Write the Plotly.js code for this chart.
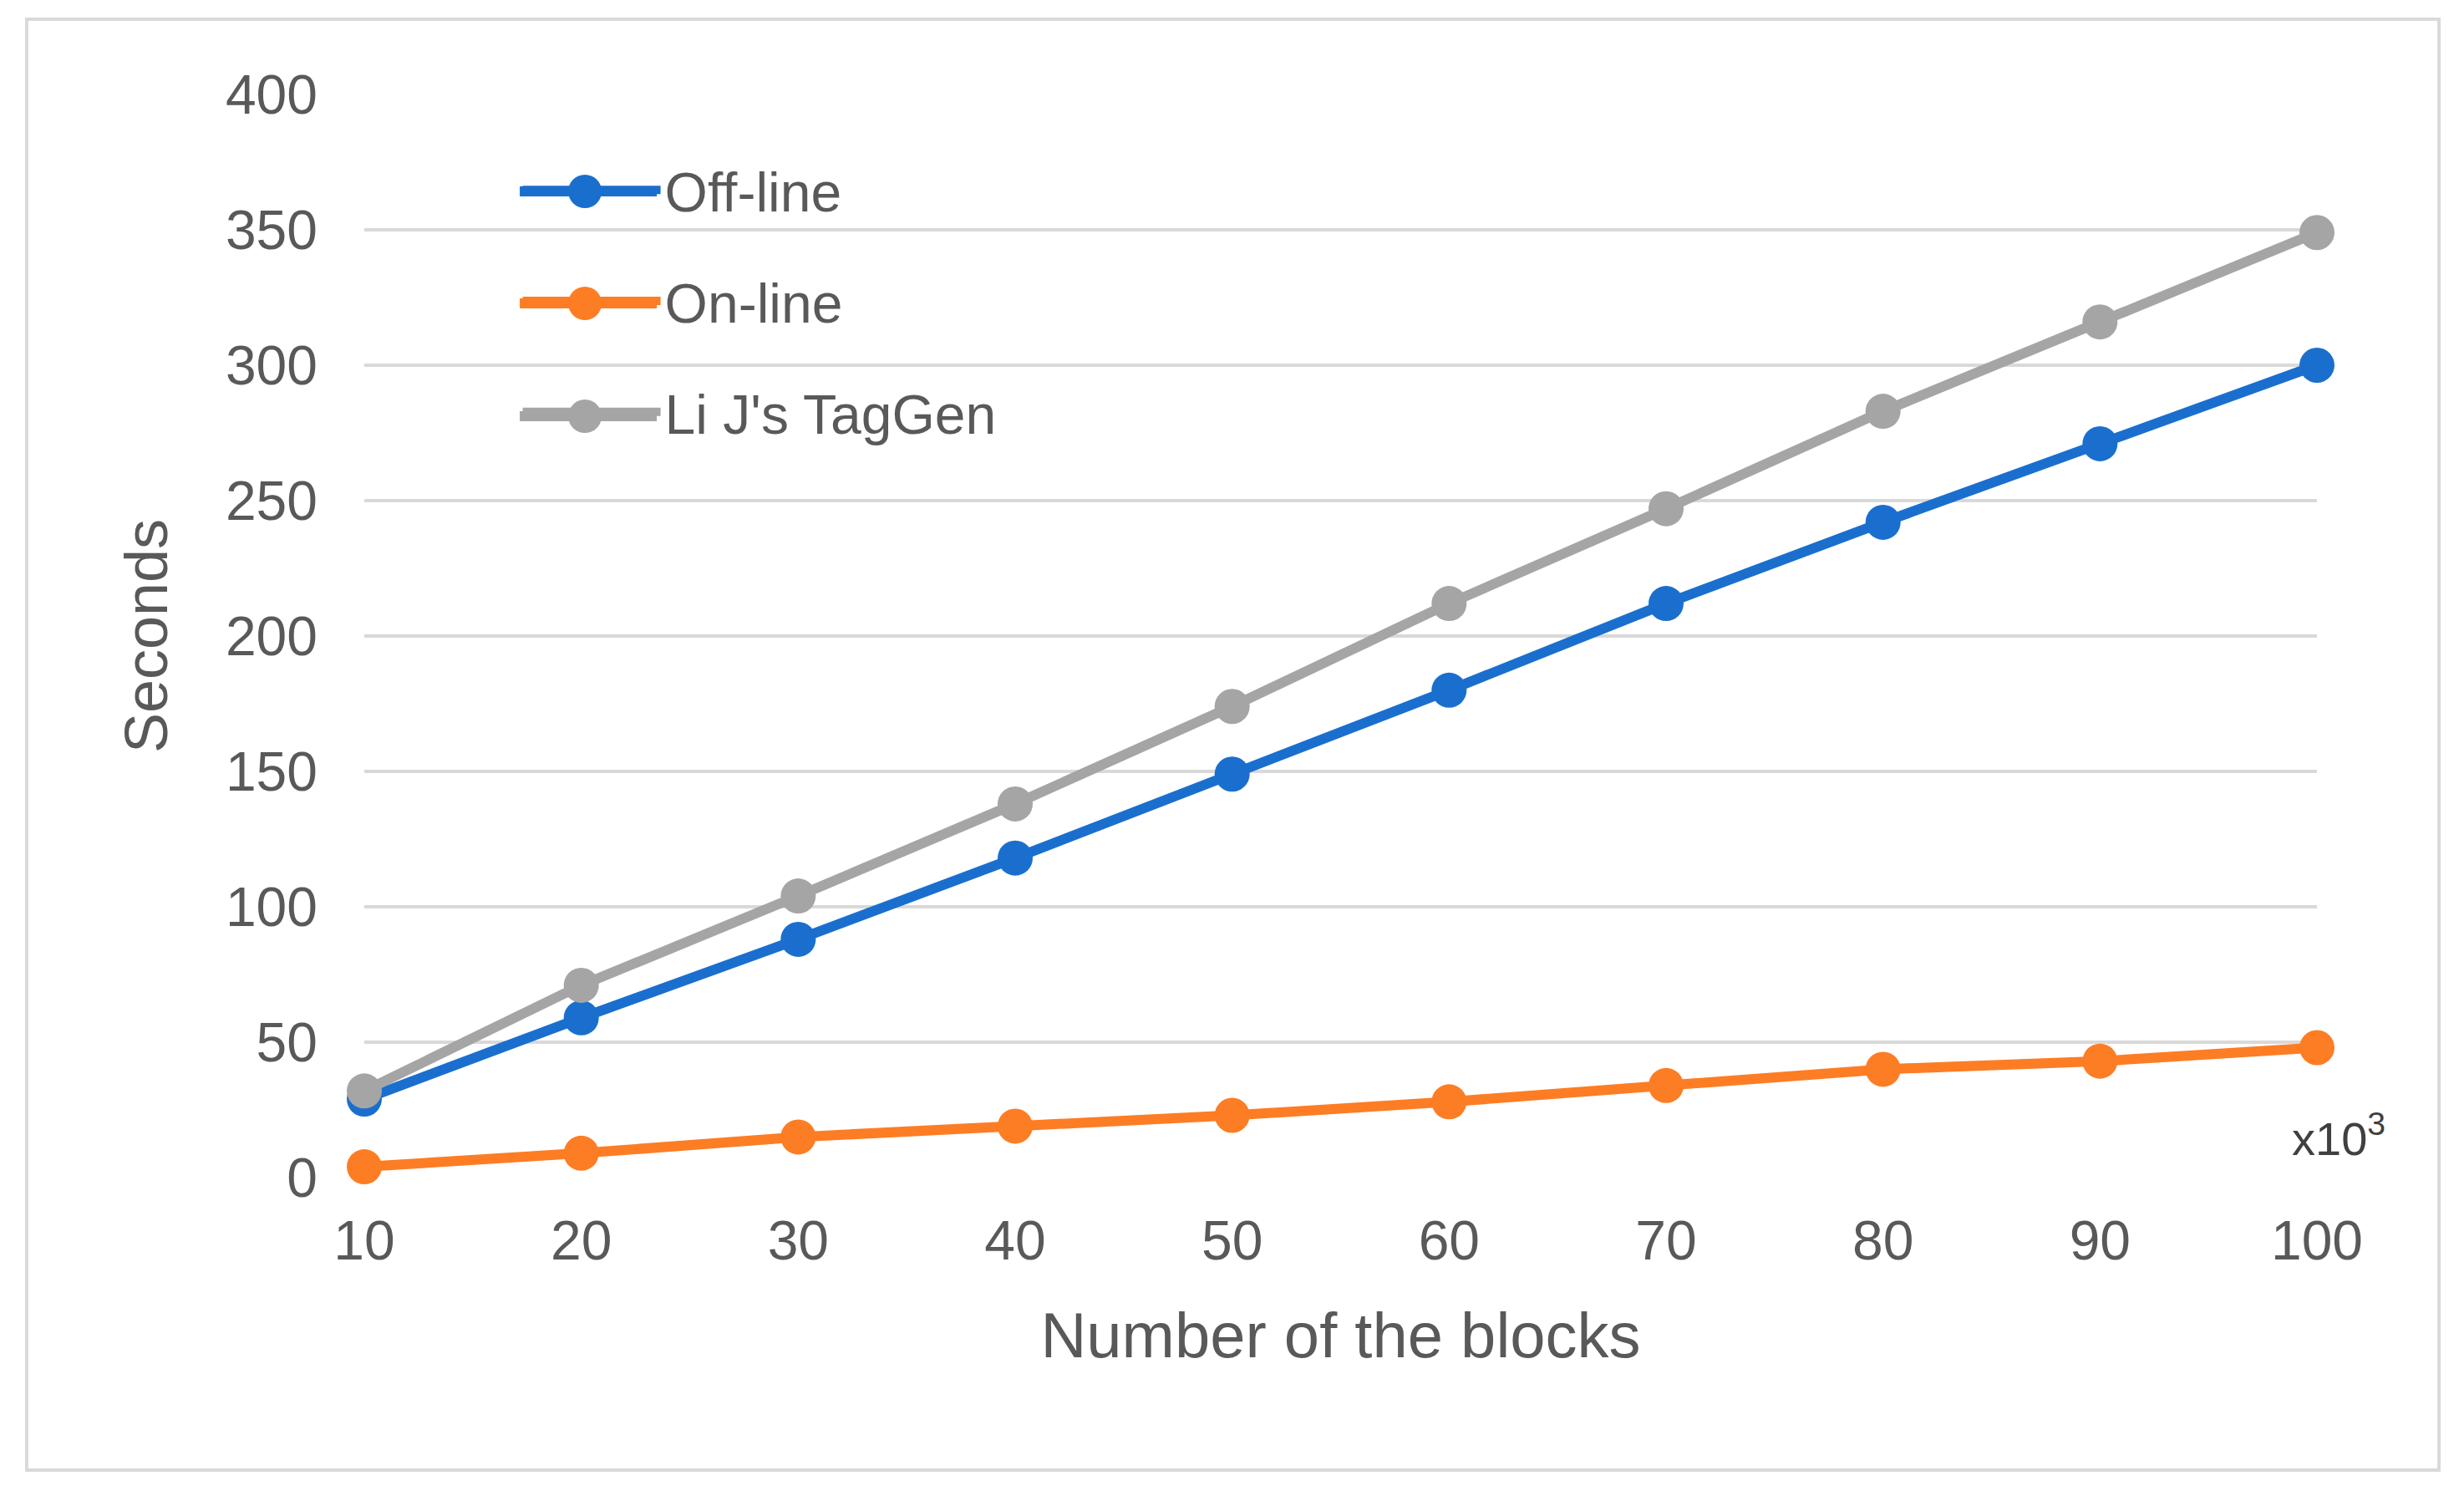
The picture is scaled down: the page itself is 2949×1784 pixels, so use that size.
<!DOCTYPE html>
<html>
<head>
<meta charset="utf-8">
<script src="https://cdn.plot.ly/plotly-3.0.1.min.js"></script>
<style>
  html, body { margin: 0; padding: 0; background: #fff; }
  #chart { width: 2949px; height: 1784px; }
</style>
</head>
<body>
<div id="chart"></div>
<script>
// blocks, in thousands
const blocks = [10, 20, 30, 40, 50, 60, 70, 80, 90, 100]
const offline = [29, 59, 88, 118, 149, 180, 212, 242, 271, 300]
const online = [4, 9, 15, 19, 23, 28, 34, 40, 43, 48]
const taggen = [32, 71, 104, 138, 174, 212, 247, 283, 316, 349]
const seriesNames = ['Off-line', 'On-line', "Li J's TagGen"]
const seriesColors = ['#1a6fce', '#fd7d24', '#a5a5a5']

const font = 'Liberation Sans, Arial, sans-serif'
const textColor = '#595959'

function series(y, i) {
  return {
    x: blocks,
    y: y,
    name: seriesNames[i],
    legendgroup: 'g' + i,
    type: 'scatter',
    mode: 'lines+markers',
    line: { color: seriesColors[i], width: 12 },
    marker: { color: seriesColors[i], size: 42 },
    cliponaxis: false
  }
}

const data = [series(offline, 0), series(online, 1), series(taggen, 2)]

// plotly caps legend symbol sizes, so the thick legend symbols are redrawn as pixel-sized shapes
const legendDotY = [0.9105, 0.8071, 0.7029]
const legendLines = legendDotY.map(function(y, i) {
  return {
    type: 'line', xref: 'paper', yref: 'paper',
    xsizemode: 'pixel', ysizemode: 'pixel',
    xanchor: 0.113, yanchor: y,
    x0: -78, x1: 86, y0: 0, y1: 0,
    line: { color: seriesColors[i], width: 12 }
  }
})
const legendDots = legendDotY.map(function(y, i) {
  return {
    type: 'circle', xref: 'paper', yref: 'paper',
    xsizemode: 'pixel', ysizemode: 'pixel',
    xanchor: 0.113, yanchor: y,
    x0: -20, x1: 20, y0: -20, y1: 20,
    fillcolor: seriesColors[i], line: { width: 0 }
  }
})

const layout = {
  width: 2949,
  height: 1784,
  paper_bgcolor: '#fff',
  plot_bgcolor: '#fff',
  margin: { l: 436, r: 176, t: 113, b: 375 },
  font: { family: font, color: textColor, size: 66 },
  showlegend: true,
  legend: {
    x: 0.079, y: 0.95, xanchor: 'left', yanchor: 'top',
    bgcolor: 'rgba(0,0,0,0)',
    font: { size: 66, color: textColor },
    itemwidth: 165,
    tracegroupgap: 44,
    traceorder: 'grouped'
  },
  xaxis: {
    range: [10, 100],
    tickvals: blocks,
    showgrid: false,
    zeroline: false,
    showline: false,
    ticks: '',
    ticklabelstandoff: 31,
    title: { text: 'Number of the blocks', font: { size: 76, color: textColor }, standoff: 50 }
  },
  yaxis: {
    range: [0, 400],
    dtick: 50,
    showgrid: true,
    gridcolor: '#d9d9d9',
    gridwidth: 4,
    zeroline: false,
    showline: false,
    ticks: '',
    ticklabelstandoff: 55,
    title: { text: 'Seconds', font: { size: 72, color: textColor }, standoff: 45 }
  },
  annotations: [{
    xref: 'paper', yref: 'paper', x: 1.036, y: 0.01,
    text: 'x10<sup>3</sup>', showarrow: false,
    font: { size: 56, color: '#404040' }
  }],
  shapes: [{
    type: 'rect', xref: 'paper', yref: 'paper',
    x0: -0.1729, x1: 1.0625, y0: -0.27, y1: 1.0694,
    line: { color: '#d9d9d9', width: 4 }
  }].concat(legendLines, legendDots)
}

Plotly.newPlot('chart', data, layout, { displayModeBar: false, staticPlot: true })
</script>
</body>
</html>
